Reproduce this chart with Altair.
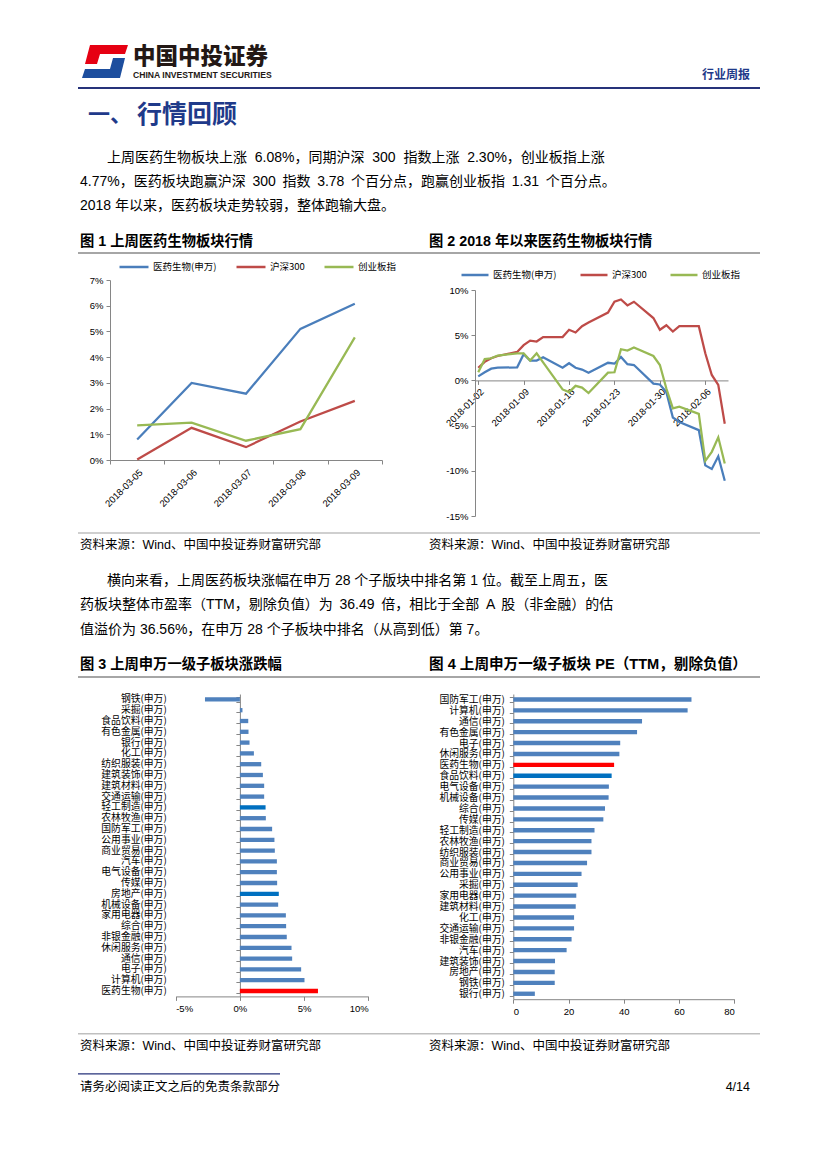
import altair as alt
import pandas as pd

CJK = "Noto Sans CJK SC"
NUM = "Liberation Sans, Noto Sans CJK SC"
AX = "#868686"
NB = "\u00a0"
SP = " \u2009"

# ---------------- data ----------------
series_names = ["医药生物(申万)", "沪深300", "创业板指"]
series_colors = ["#4A7EBB", "#BE4B48", "#98B954"]

dates1 = ["2018-03-05", "2018-03-06", "2018-03-07", "2018-03-08", "2018-03-09"]
yy1 = [0.80, 3.00, 2.58, 5.10, 6.08]
hs1 = [0.02, 1.25, 0.50, 1.50, 2.30]
cy1 = [1.35, 1.45, 0.75, 1.20, 4.77]

dates2 = ["2018-01-02", "2018-01-03", "2018-01-04", "2018-01-05", "2018-01-08",
          "2018-01-09", "2018-01-10", "2018-01-11", "2018-01-12", "2018-01-15",
          "2018-01-16", "2018-01-17", "2018-01-18", "2018-01-19", "2018-01-22",
          "2018-01-23", "2018-01-24", "2018-01-25", "2018-01-26", "2018-01-29",
          "2018-01-30", "2018-01-31", "2018-02-01", "2018-02-02", "2018-02-05",
          "2018-02-06", "2018-02-07", "2018-02-08", "2018-02-09"]
yy2 = [0.45, 0.9, 1.3, 1.4, 1.45, 2.9, 2.2, 2.2, 2.55, 1.4, 1.9, 1.4, 1.2, 0.85,
       1.95, 1.85, 2.6, 1.8, 1.7, -0.35, -0.45, -1.3, -4.1, -4.6, -5.5, -9.4,
       -9.8, -8.4, -11.1]
hs2 = [1.4, 2.05, 2.45, 2.7, 3.15, 3.9, 4.4, 4.3, 4.8, 4.8, 5.6, 5.3, 6.0, 6.4,
       7.5, 8.7, 8.95, 8.3, 8.7, 6.9, 5.6, 6.1, 5.4, 6.0, 6.0, 3.0, 0.6, -0.5,
       -4.8]
cy2 = [0.9, 2.35, 2.45, 2.75, 3.0, 3.0, 2.2, 3.0, 2.0, -1.0, -1.3, -0.6, -0.8,
       -1.4, 0.85, 0.9, 3.45, 3.3, 3.65, 2.7, 1.7, -0.9, -3.1, -2.9, -3.7, -8.9,
       -7.9, -6.3, -9.2]
ticks2 = ["2018-01-02", "2018-01-09", "2018-01-16", "2018-01-23", "2018-01-30",
          "2018-02-06"]

names3 = ["钢铁(申万)", "采掘(申万)", "食品饮料(申万)", "有色金属(申万)", "银行(申万)",
          "化工(申万)", "纺织服装(申万)", "建筑装饰(申万)", "建筑材料(申万)", "交通运输(申万)",
          "轻工制造(申万)", "农林牧渔(申万)", "国防军工(申万)", "公用事业(申万)", "商业贸易(申万)",
          "汽车(申万)", "电气设备(申万)", "传媒(申万)", "房地产(申万)", "机械设备(申万)",
          "家用电器(申万)", "综合(申万)", "非银金融(申万)", "休闲服务(申万)", "通信(申万)",
          "电子(申万)", "计算机(申万)", "医药生物(申万)"]
vals3 = [-2.72, 0.20, 0.65, 0.67, 0.75, 1.09, 1.66, 1.79, 1.89, 1.89, 2.00, 2.02,
         2.51, 2.69, 2.72, 2.88, 2.88, 2.90, 3.03, 2.98, 3.58, 3.60, 3.65, 4.02,
         4.07, 4.77, 5.03, 6.08]
dark3 = ["轻工制造(申万)", "房地产(申万)"]

names4 = ["国防军工(申万)", "计算机(申万)", "通信(申万)", "有色金属(申万)", "电子(申万)",
          "休闲服务(申万)", "医药生物(申万)", "食品饮料(申万)", "电气设备(申万)", "机械设备(申万)",
          "综合(申万)", "传媒(申万)", "轻工制造(申万)", "农林牧渔(申万)", "纺织服装(申万)",
          "商业贸易(申万)", "公用事业(申万)", "采掘(申万)", "家用电器(申万)", "建筑材料(申万)",
          "化工(申万)", "交通运输(申万)", "非银金融(申万)", "汽车(申万)", "建筑装饰(申万)",
          "房地产(申万)", "钢铁(申万)", "银行(申万)"]
vals4 = [64.5, 63.1, 46.6, 44.8, 38.7, 38.4, 36.49, 35.6, 34.6, 34.5, 33.2, 32.6,
         29.4, 28.3, 28.3, 26.7, 24.7, 23.3, 22.8, 22.6, 22.0, 22.0, 21.1, 19.3,
         15.1, 15.0, 15.0, 7.8]
dark4 = ["食品饮料(申万)"]
red_name = "医药生物(申万)"

# ---------------- helpers ----------------
dummy = pd.DataFrame({"a": [0]})


def spacer(w, h):
    return alt.Chart(dummy).mark_rect(opacity=0).encode(
        x=alt.value(0), x2=alt.value(1), y=alt.value(0), y2=alt.value(1)
    ).properties(width=w, height=h)


def T(s, x, y, top, size=14, weight="normal", color="#000000", align="left", font=NUM):
    return alt.Chart(dummy).mark_text(
        align=align, baseline="middle", fontSize=size, fontWeight=weight,
        color=color, font=font).encode(
        x=alt.value(x - 8), y=alt.value(y - top), text=alt.value(s))


def R(x1, x2, y, top, color, w):
    return alt.Chart(dummy).mark_rule(color=color, strokeWidth=w).encode(
        x=alt.value(x1 - 8), x2=alt.value(x2 - 8), y=alt.value(y - top))


def logo(path, color, cx, cy, top):
    return alt.Chart(dummy).mark_point(
        shape=path, size=2116, filled=True, color=color, opacity=1,
        strokeWidth=0).encode(x=alt.value(cx - 8), y=alt.value(cy - top))


def wide(s):
    return s.replace(" ", SP)


NAVY = "#1F3A8A"
GRAY = "#A6A6A6"

RED_PATH = "M-0.652,-0.717 L1,-0.717 L0.870,-0.326 L-0.217,-0.326 L-0.348,0.109 L-0.870,0.109 Z"
BLUE_PATH = "M0.348,-0.152 L0.870,-0.152 L0.652,0.717 L-1,0.717 L-0.870,0.326 L0.217,0.326 Z"

# grid geometry (page px)
COLW = [102, 272, 93, 253, 91]
R1_TOP, R2_TOP, R3_TOP, R4_TOP = 8, 280, 516, 694
R4_H = 305.2
R5_TOP = R4_TOP + R4_H

# ---------------- row 1 : header text ----------------
t1 = R1_TOP
p1 = ("上周医药生物板块上涨" + NB * 2 + "6.08%，同期沪深" + NB * 2 + "300" + NB * 2
      + "指数上涨" + NB * 2 + "2.30%，创业板指上涨")
text1 = alt.layer(
    logo(RED_PATH, "#E60012", 105, 61.5, t1),
    logo(BLUE_PATH, "#1D4E9E", 105, 61.5, t1),
    T("中国中投证券", 133, 57, t1, size=22.5, weight=900, color="#231815", font=CJK),
    T("CHINA INVESTMENT SECURITIES", 133, 74.5, t1, size=8.6, weight="bold",
      color="#231815", font="Liberation Sans Narrow, Liberation Sans"),
    T("行业周报", 750, 75, t1, size=12, weight="bold", color=NAVY, align="right", font=CJK),
    R(78, 760, 88, t1, "#26327A", 2),
    T("一、", 88, 115, t1, size=22, weight="bold", color=NAVY, font=CJK),
    T("行情回顾", 137, 115, t1, size=25, weight="bold", color=NAVY, font=CJK),
    T(p1, 107, 158, t1),
    T(wide("4.77%，医药板块跑赢沪深 300 指数 3.78 个百分点，跑赢创业板指 1.31 个百分点。"), 80, 182, t1),
    T("2018 年以来，医药板块走势较弱，整体跑输大盘。", 80, 206, t1),
    T("图 1 上周医药生物板块行情", 80, 242, t1, size=14.3, weight="bold"),
    T("图 2 2018 年以来医药生物板块行情", 429, 242, t1, size=14.3, weight="bold"),
    R(78, 760, 253, t1, GRAY, 2),
).properties(width=COLW[0], height=R2_TOP - R1_TOP)

# ---------------- chart 1 ----------------
rows = []
for nm, vals in zip(series_names, [yy1, hs1, cy1]):
    for d, v in zip(dates1, vals):
        rows.append({"date": d, "series": nm, "value": v})
df1 = pd.DataFrame(rows)

leg_common = dict(orient="none", direction="horizontal", title=None,
                  symbolType="stroke", symbolStrokeWidth=2.5, labelFontSize=9.5,
                  labelFont=CJK, labelColor="#000000", labelOffset=3, padding=0)

chart1 = alt.Chart(df1).mark_line(strokeWidth=2.25).encode(
    x=alt.X("date:N", sort=dates1, bandPosition=0.5,
            scale=alt.Scale(type="band", paddingInner=0, paddingOuter=0),
            axis=alt.Axis(title=None, labelAngle=-45, labelFontSize=9.5, labelFont=NUM,
                          labelColor="#000000", domainColor=AX, tickColor=AX,
                          tickSize=4, tickBand="extent", labelPadding=3,
                          labelOverlap=False)),
    y=alt.Y("value:Q", scale=alt.Scale(domain=[0, 7], nice=False),
            axis=alt.Axis(title=None, values=list(range(8)),
                          labelExpr="datum.value + '%'", grid=False, labelFontSize=9.5,
                          labelFont=NUM, labelColor="#000000", domainColor=AX,
                          tickColor=AX, tickSize=4, labelPadding=3)),
    color=alt.Color("series:N", sort=series_names,
                    scale=alt.Scale(domain=series_names, range=series_colors),
                    legend=alt.Legend(legendX=8, legendY=-29, symbolSize=841,
                                      columnPadding=14, **leg_common)),
).properties(width=COLW[1], height=180)

# ---------------- chart 2 ----------------
rows = []
for nm, vals in zip(series_names, [yy2, hs2, cy2]):
    for d, v in zip(dates2, vals):
        rows.append({"date": pd.Timestamp(d), "series": nm, "value": v})
df2 = pd.DataFrame(rows)


def dt(s, h=0):
    y, m, d = [int(p) for p in s.split("-")]
    return alt.DateTime(year=y, month=m, date=d, hours=h)


H2 = R3_TOP - R2_TOP          # 236
TOP2 = 10                      # plot top inside the cell
zero_from_bottom = (H2 - TOP2) * 15 / 25

chart2 = alt.Chart(df2).mark_line(strokeWidth=2.25).encode(
    x=alt.X("date:T",
            scale=alt.Scale(domain=[dt("2018-01-01", 12), dt("2018-02-09", 12)], nice=False),
            axis=alt.Axis(title=None, values=[dt(s) for s in ticks2], format="%Y-%m-%d",
                          labelAngle=-45, labelFontSize=9.5, labelFont=NUM,
                          labelColor="#000000", domainColor=AX, tickColor=AX,
                          tickSize=4, labelPadding=2, offset=-zero_from_bottom,
                          labelFlush=False, labelOverlap=False, grid=False)),
    y=alt.Y("value:Q", scale=alt.Scale(domain=[-15, 10], nice=False, range=[H2, TOP2]),
            axis=alt.Axis(title=None, values=[-15, -10, -5, 0, 5, 10],
                          labelExpr="datum.value + '%'", grid=False, labelFontSize=9.5,
                          labelFont=NUM, labelColor="#000000", domainColor=AX,
                          tickColor=AX, tickSize=4, labelPadding=3)),
    color=alt.Color("series:N", sort=series_names,
                    scale=alt.Scale(domain=series_names, range=series_colors),
                    legend=alt.Legend(legendX=-15, legendY=-20, symbolSize=729,
                                      columnPadding=18, **leg_common)),
).properties(width=COLW[3], height=H2)

# ---------------- row 3 : text ----------------
t3 = R3_TOP
text3 = alt.layer(
    R(78, 760, 533, t3, "#BFBFBF", 1.5),
    T("资料来源：Wind、中国中投证券财富研究部", 80, 545, t3, size=12.5),
    T("资料来源：Wind、中国中投证券财富研究部", 429, 545, t3, size=12.5),
    T("横向来看，上周医药板块涨幅在申万 28 个子版块中排名第 1 位。截至上周五，医", 107, 581, t3),
    T(wide("药板块整体市盈率（TTM，剔除负值）为 36.49 倍，相比于全部 A 股（非金融）的估"), 80, 605, t3),
    T("值溢价为 36.56%，在申万 28 个子板块中排名（从高到低）第 7。", 80, 630, t3),
    T("图 3 上周申万一级子板块涨跌幅", 80, 665, t3, size=14.3, weight="bold"),
    T("图 4 上周申万一级子板块 PE（TTM，剔除负值）", 429, 665, t3, size=14.6, weight="bold"),
    R(78, 760, 677, t3, GRAY, 2),
).properties(width=COLW[0], height=R4_TOP - R3_TOP)

# ---------------- chart 3 ----------------
hl_scale = alt.Scale(domain=["base", "dark", "red"], range=["#4F81BD", "#0070C0", "#FF0000"])

df3 = pd.DataFrame({"name": names3, "value": vals3})
df3["hl"] = ["red" if n == red_name else ("dark" if n in dark3 else "base") for n in names3]

X3L, X3R = 175.7 - 110, 368.3 - 110      # plot extent inside the cell
zero3_px = X3L + (X3R - X3L) * 5 / 15

bars3 = alt.Chart(df3).mark_bar().encode(
    x=alt.X("value:Q", scale=alt.Scale(domain=[-5, 10], nice=False, range=[X3L, X3R]),
            axis=alt.Axis(title=None, values=[-5, 0, 5, 10], labelExpr="datum.value + '%'",
                          grid=False, labelFontSize=9.5, labelFont=NUM, labelColor="#000000",
                          domainColor=AX, tickColor=AX, tickSize=4, labelPadding=3)),
    y=alt.Y("name:N", sort=names3,
            scale=alt.Scale(paddingInner=0.6, paddingOuter=0.3),
            axis=alt.Axis(title=None, domain=False, ticks=False, labelFontSize=9.8,
                          labelFont=CJK, labelColor="#000000", labelPadding=9.5,
                          offset=-X3L)),
    color=alt.Color("hl:N", scale=hl_scale, legend=None),
)
zero3 = alt.Chart(df3).mark_point(opacity=0).encode(
    y=alt.Y("name:N", sort=names3,
            axis=alt.Axis(title=None, orient="left", offset=-zero3_px, labels=False,
                          domain=True, ticks=True, tickBand="extent", tickSize=4,
                          domainColor=AX, tickColor=AX)),
)
chart3 = alt.layer(bars3, zero3).resolve_axis(y="independent").properties(
    width=COLW[1], height=302.4)

# ---------------- chart 4 ----------------
df4 = pd.DataFrame({"name": names4, "value": vals4})
df4["hl"] = ["red" if n == red_name else ("dark" if n in dark4 else "base") for n in names4]

X4L, X4R = 513.3 - 475, 734.3 - 475

chart4 = alt.Chart(df4).mark_bar().encode(
    x=alt.X("value:Q", scale=alt.Scale(domain=[0, 80], nice=False, range=[X4L, X4R]),
            axis=alt.Axis(title=None, values=[0, 20, 40, 60, 80], grid=False,
                          labelFontSize=9.5, labelFont=NUM, labelColor="#000000",
                          domainColor=AX, tickColor=AX, tickSize=4, labelPadding=3)),
    y=alt.Y("name:N", sort=names4,
            scale=alt.Scale(paddingInner=0.6, paddingOuter=0.3),
            axis=alt.Axis(title=None, domain=True, ticks=True, tickBand="extent",
                          tickSize=4, domainColor=AX, tickColor=AX, labelFontSize=9.8,
                          labelFont=CJK, labelColor="#000000", labelPadding=5,
                          offset=-X4L)),
    color=alt.Color("hl:N", scale=hl_scale, legend=None),
).properties(width=COLW[3], height=R4_H)

# ---------------- row 5 : footer ----------------
t5 = R5_TOP
text5 = alt.layer(
    R(78, 760, 1033, t5, "#BFBFBF", 1.5),
    T("资料来源：Wind、中国中投证券财富研究部", 80, 1045, t5, size=12.5),
    T("资料来源：Wind、中国中投证券财富研究部", 429, 1045, t5, size=12.5),
    R(78, 280, 1073, t5, "#26327A", 1.2),
    T("请务必阅读正文之后的免责条款部分", 80, 1086, t5, size=12.5),
    T("4/14", 750, 1086, t5, size=12.5, align="right"),
).properties(width=COLW[0], height=140)

# ---------------- page grid ----------------
cells = [
    text1, spacer(COLW[1], 1), spacer(COLW[2], 1), spacer(COLW[3], 1), spacer(COLW[4], 1),
    spacer(COLW[0], 1), chart1, spacer(COLW[2], 1), chart2, spacer(COLW[4], 1),
    text3, spacer(COLW[1], 1), spacer(COLW[2], 1), spacer(COLW[3], 1), spacer(COLW[4], 1),
    spacer(COLW[0], 1), chart3, spacer(COLW[2], 1), chart4, spacer(COLW[4], 1),
    text5, spacer(COLW[1], 1), spacer(COLW[2], 1), spacer(COLW[3], 1), spacer(COLW[4], 1),
]

chart = alt.concat(*cells, columns=5, spacing=0, bounds="flush", align="each").resolve_scale(
    color="independent").properties(padding=0, background="white").configure_view(stroke=None)

chart.save("out.html", embed_options={"renderer": "svg", "actions": False})
